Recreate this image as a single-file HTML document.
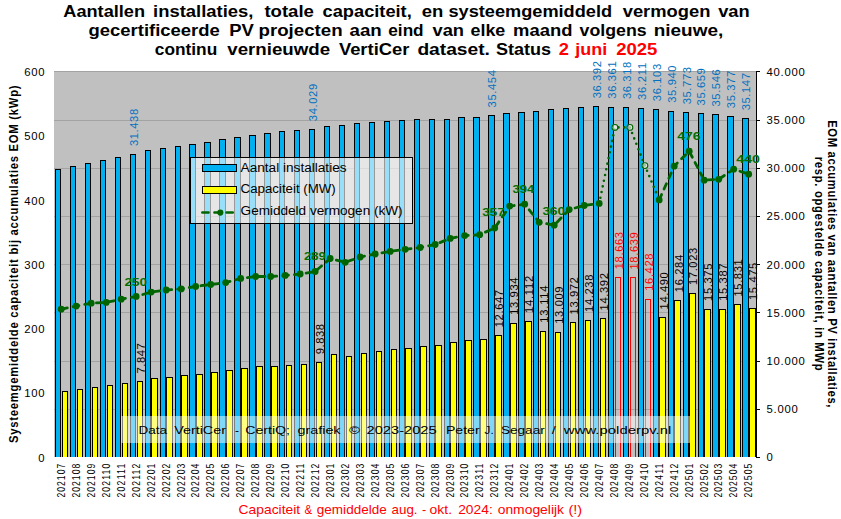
<!DOCTYPE html>
<html><head><meta charset="utf-8"><style>
html,body{margin:0;padding:0;background:#fff;overflow:hidden;}
svg{display:block;font-family:"Liberation Sans", sans-serif;} rect{shape-rendering:crispEdges;}
</style></head><body>
<svg width="841" height="519" viewBox="0 0 841 519">
<rect x="0" y="0" width="841" height="519" fill="#fff"/>
<rect x="54" y="71" width="702" height="386" fill="#c0c0c0"/>
<rect x="54" y="120" width="702" height="1" fill="#a3a3a3"/>
<rect x="54" y="168" width="702" height="1" fill="#a3a3a3"/>
<rect x="54" y="216" width="702" height="1" fill="#a3a3a3"/>
<rect x="54" y="264" width="702" height="1" fill="#a3a3a3"/>
<rect x="54" y="312" width="702" height="1" fill="#a3a3a3"/>
<rect x="54" y="361" width="702" height="1" fill="#a3a3a3"/>
<rect x="54" y="409" width="702" height="1" fill="#a3a3a3"/>
<rect x="54" y="71" width="702" height="1" fill="#a3a3a3"/>
<rect x="55" y="169" width="6" height="288" fill="#000"/>
<rect x="56" y="170" width="4" height="287" fill="#00b0f0"/>
<rect x="62" y="391" width="6" height="66" fill="#000"/>
<rect x="63" y="392" width="4" height="65" fill="#ffff00"/>
<rect x="70" y="166" width="6" height="291" fill="#000"/>
<rect x="71" y="167" width="4" height="290" fill="#00b0f0"/>
<rect x="77" y="389" width="6" height="68" fill="#000"/>
<rect x="78" y="390" width="4" height="67" fill="#ffff00"/>
<rect x="85" y="163" width="6" height="294" fill="#000"/>
<rect x="86" y="164" width="4" height="293" fill="#00b0f0"/>
<rect x="92" y="387" width="6" height="70" fill="#000"/>
<rect x="93" y="388" width="4" height="69" fill="#ffff00"/>
<rect x="100" y="160" width="6" height="297" fill="#000"/>
<rect x="101" y="161" width="4" height="296" fill="#00b0f0"/>
<rect x="107" y="385" width="6" height="72" fill="#000"/>
<rect x="108" y="386" width="4" height="71" fill="#ffff00"/>
<rect x="115" y="157" width="6" height="300" fill="#000"/>
<rect x="116" y="158" width="4" height="299" fill="#00b0f0"/>
<rect x="122" y="383" width="6" height="74" fill="#000"/>
<rect x="123" y="384" width="4" height="73" fill="#ffff00"/>
<rect x="130" y="154" width="6" height="303" fill="#000"/>
<rect x="131" y="155" width="4" height="302" fill="#00b0f0"/>
<rect x="137" y="381" width="6" height="76" fill="#000"/>
<rect x="138" y="382" width="4" height="75" fill="#ffff00"/>
<rect x="145" y="150" width="6" height="307" fill="#000"/>
<rect x="146" y="151" width="4" height="306" fill="#00b0f0"/>
<rect x="151" y="378" width="7" height="79" fill="#000"/>
<rect x="152" y="379" width="5" height="78" fill="#ffff00"/>
<rect x="160" y="148" width="6" height="309" fill="#000"/>
<rect x="161" y="149" width="4" height="308" fill="#00b0f0"/>
<rect x="166" y="377" width="7" height="80" fill="#000"/>
<rect x="167" y="378" width="5" height="79" fill="#ffff00"/>
<rect x="175" y="146" width="6" height="311" fill="#000"/>
<rect x="176" y="147" width="4" height="310" fill="#00b0f0"/>
<rect x="181" y="375" width="7" height="82" fill="#000"/>
<rect x="182" y="376" width="5" height="81" fill="#ffff00"/>
<rect x="189" y="144" width="7" height="313" fill="#000"/>
<rect x="190" y="145" width="5" height="312" fill="#00b0f0"/>
<rect x="196" y="374" width="7" height="83" fill="#000"/>
<rect x="197" y="375" width="5" height="82" fill="#ffff00"/>
<rect x="204" y="142" width="7" height="315" fill="#000"/>
<rect x="205" y="143" width="5" height="314" fill="#00b0f0"/>
<rect x="211" y="372" width="7" height="85" fill="#000"/>
<rect x="212" y="373" width="5" height="84" fill="#ffff00"/>
<rect x="219" y="139" width="7" height="318" fill="#000"/>
<rect x="220" y="140" width="5" height="317" fill="#00b0f0"/>
<rect x="226" y="370" width="7" height="87" fill="#000"/>
<rect x="227" y="371" width="5" height="86" fill="#ffff00"/>
<rect x="234" y="137" width="7" height="320" fill="#000"/>
<rect x="235" y="138" width="5" height="319" fill="#00b0f0"/>
<rect x="241" y="368" width="7" height="89" fill="#000"/>
<rect x="242" y="369" width="5" height="88" fill="#ffff00"/>
<rect x="249" y="135" width="7" height="322" fill="#000"/>
<rect x="250" y="136" width="5" height="321" fill="#00b0f0"/>
<rect x="256" y="366" width="7" height="91" fill="#000"/>
<rect x="257" y="367" width="5" height="90" fill="#ffff00"/>
<rect x="264" y="133" width="7" height="324" fill="#000"/>
<rect x="265" y="134" width="5" height="323" fill="#00b0f0"/>
<rect x="271" y="366" width="7" height="91" fill="#000"/>
<rect x="272" y="367" width="5" height="90" fill="#ffff00"/>
<rect x="279" y="131" width="6" height="326" fill="#000"/>
<rect x="280" y="132" width="4" height="325" fill="#00b0f0"/>
<rect x="286" y="365" width="6" height="92" fill="#000"/>
<rect x="287" y="366" width="4" height="91" fill="#ffff00"/>
<rect x="294" y="130" width="6" height="327" fill="#000"/>
<rect x="295" y="131" width="4" height="326" fill="#00b0f0"/>
<rect x="301" y="364" width="6" height="93" fill="#000"/>
<rect x="302" y="365" width="4" height="92" fill="#ffff00"/>
<rect x="309" y="129" width="6" height="328" fill="#000"/>
<rect x="310" y="130" width="4" height="327" fill="#00b0f0"/>
<rect x="316" y="362" width="6" height="95" fill="#000"/>
<rect x="317" y="363" width="4" height="94" fill="#ffff00"/>
<rect x="324" y="126" width="6" height="331" fill="#000"/>
<rect x="325" y="127" width="4" height="330" fill="#00b0f0"/>
<rect x="331" y="354" width="6" height="103" fill="#000"/>
<rect x="332" y="355" width="4" height="102" fill="#ffff00"/>
<rect x="339" y="125" width="6" height="332" fill="#000"/>
<rect x="340" y="126" width="4" height="331" fill="#00b0f0"/>
<rect x="346" y="356" width="6" height="101" fill="#000"/>
<rect x="347" y="357" width="4" height="100" fill="#ffff00"/>
<rect x="354" y="123" width="6" height="334" fill="#000"/>
<rect x="355" y="124" width="4" height="333" fill="#00b0f0"/>
<rect x="361" y="353" width="6" height="104" fill="#000"/>
<rect x="362" y="354" width="4" height="103" fill="#ffff00"/>
<rect x="369" y="122" width="6" height="335" fill="#000"/>
<rect x="370" y="123" width="4" height="334" fill="#00b0f0"/>
<rect x="376" y="351" width="6" height="106" fill="#000"/>
<rect x="377" y="352" width="4" height="105" fill="#ffff00"/>
<rect x="384" y="121" width="6" height="336" fill="#000"/>
<rect x="385" y="122" width="4" height="335" fill="#00b0f0"/>
<rect x="391" y="349" width="6" height="108" fill="#000"/>
<rect x="392" y="350" width="4" height="107" fill="#ffff00"/>
<rect x="399" y="120" width="6" height="337" fill="#000"/>
<rect x="400" y="121" width="4" height="336" fill="#00b0f0"/>
<rect x="405" y="348" width="7" height="109" fill="#000"/>
<rect x="406" y="349" width="5" height="108" fill="#ffff00"/>
<rect x="414" y="119" width="6" height="338" fill="#000"/>
<rect x="415" y="120" width="4" height="337" fill="#00b0f0"/>
<rect x="420" y="346" width="7" height="111" fill="#000"/>
<rect x="421" y="347" width="5" height="110" fill="#ffff00"/>
<rect x="429" y="119" width="6" height="338" fill="#000"/>
<rect x="430" y="120" width="4" height="337" fill="#00b0f0"/>
<rect x="435" y="345" width="7" height="112" fill="#000"/>
<rect x="436" y="346" width="5" height="111" fill="#ffff00"/>
<rect x="444" y="119" width="6" height="338" fill="#000"/>
<rect x="445" y="120" width="4" height="337" fill="#00b0f0"/>
<rect x="450" y="342" width="7" height="115" fill="#000"/>
<rect x="451" y="343" width="5" height="114" fill="#ffff00"/>
<rect x="458" y="117" width="7" height="340" fill="#000"/>
<rect x="459" y="118" width="5" height="339" fill="#00b0f0"/>
<rect x="465" y="340" width="7" height="117" fill="#000"/>
<rect x="466" y="341" width="5" height="116" fill="#ffff00"/>
<rect x="473" y="117" width="7" height="340" fill="#000"/>
<rect x="474" y="118" width="5" height="339" fill="#00b0f0"/>
<rect x="480" y="339" width="7" height="118" fill="#000"/>
<rect x="481" y="340" width="5" height="117" fill="#ffff00"/>
<rect x="488" y="115" width="7" height="342" fill="#000"/>
<rect x="489" y="116" width="5" height="341" fill="#00b0f0"/>
<rect x="495" y="335" width="7" height="122" fill="#000"/>
<rect x="496" y="336" width="5" height="121" fill="#ffff00"/>
<rect x="503" y="113" width="7" height="344" fill="#000"/>
<rect x="504" y="114" width="5" height="343" fill="#00b0f0"/>
<rect x="510" y="323" width="7" height="134" fill="#000"/>
<rect x="511" y="324" width="5" height="133" fill="#ffff00"/>
<rect x="518" y="112" width="7" height="345" fill="#000"/>
<rect x="519" y="113" width="5" height="344" fill="#00b0f0"/>
<rect x="525" y="321" width="7" height="136" fill="#000"/>
<rect x="526" y="322" width="5" height="135" fill="#ffff00"/>
<rect x="533" y="111" width="6" height="346" fill="#000"/>
<rect x="534" y="112" width="4" height="345" fill="#00b0f0"/>
<rect x="540" y="331" width="6" height="126" fill="#000"/>
<rect x="541" y="332" width="4" height="125" fill="#ffff00"/>
<rect x="548" y="109" width="6" height="348" fill="#000"/>
<rect x="549" y="110" width="4" height="347" fill="#00b0f0"/>
<rect x="555" y="332" width="6" height="125" fill="#000"/>
<rect x="556" y="333" width="4" height="124" fill="#ffff00"/>
<rect x="563" y="108" width="6" height="349" fill="#000"/>
<rect x="564" y="109" width="4" height="348" fill="#00b0f0"/>
<rect x="570" y="322" width="6" height="135" fill="#000"/>
<rect x="571" y="323" width="4" height="134" fill="#ffff00"/>
<rect x="578" y="107" width="6" height="350" fill="#000"/>
<rect x="579" y="108" width="4" height="349" fill="#00b0f0"/>
<rect x="585" y="320" width="6" height="137" fill="#000"/>
<rect x="586" y="321" width="4" height="136" fill="#ffff00"/>
<rect x="593" y="106" width="6" height="351" fill="#000"/>
<rect x="594" y="107" width="4" height="350" fill="#00b0f0"/>
<rect x="600" y="318" width="6" height="139" fill="#000"/>
<rect x="601" y="319" width="4" height="138" fill="#ffff00"/>
<rect x="608" y="107" width="6" height="350" fill="#000"/>
<rect x="609" y="108" width="4" height="349" fill="#00b0f0"/>
<rect x="615" y="277" width="1" height="180" fill="#ff0000"/>
<rect x="620" y="277" width="1" height="180" fill="#ff0000"/>
<rect x="615" y="277" width="6" height="1" fill="#ff0000"/>
<rect x="623" y="107" width="6" height="350" fill="#000"/>
<rect x="624" y="108" width="4" height="349" fill="#00b0f0"/>
<rect x="630" y="277" width="1" height="180" fill="#ff0000"/>
<rect x="635" y="277" width="1" height="180" fill="#ff0000"/>
<rect x="630" y="277" width="6" height="1" fill="#ff0000"/>
<rect x="638" y="108" width="6" height="349" fill="#000"/>
<rect x="639" y="109" width="4" height="348" fill="#00b0f0"/>
<rect x="645" y="299" width="1" height="158" fill="#ff0000"/>
<rect x="650" y="299" width="1" height="158" fill="#ff0000"/>
<rect x="645" y="299" width="6" height="1" fill="#ff0000"/>
<rect x="653" y="109" width="6" height="348" fill="#000"/>
<rect x="654" y="110" width="4" height="347" fill="#00b0f0"/>
<rect x="659" y="317" width="7" height="140" fill="#000"/>
<rect x="660" y="318" width="5" height="139" fill="#ffff00"/>
<rect x="668" y="111" width="6" height="346" fill="#000"/>
<rect x="669" y="112" width="4" height="345" fill="#00b0f0"/>
<rect x="674" y="300" width="7" height="157" fill="#000"/>
<rect x="675" y="301" width="5" height="156" fill="#ffff00"/>
<rect x="683" y="112" width="6" height="345" fill="#000"/>
<rect x="684" y="113" width="4" height="344" fill="#00b0f0"/>
<rect x="689" y="293" width="7" height="164" fill="#000"/>
<rect x="690" y="294" width="5" height="163" fill="#ffff00"/>
<rect x="698" y="113" width="6" height="344" fill="#000"/>
<rect x="699" y="114" width="4" height="343" fill="#00b0f0"/>
<rect x="704" y="309" width="7" height="148" fill="#000"/>
<rect x="705" y="310" width="5" height="147" fill="#ffff00"/>
<rect x="712" y="114" width="7" height="343" fill="#000"/>
<rect x="713" y="115" width="5" height="342" fill="#00b0f0"/>
<rect x="719" y="309" width="7" height="148" fill="#000"/>
<rect x="720" y="310" width="5" height="147" fill="#ffff00"/>
<rect x="727" y="116" width="7" height="341" fill="#000"/>
<rect x="728" y="117" width="5" height="340" fill="#00b0f0"/>
<rect x="734" y="304" width="7" height="153" fill="#000"/>
<rect x="735" y="305" width="5" height="152" fill="#ffff00"/>
<rect x="742" y="118" width="7" height="339" fill="#000"/>
<rect x="743" y="119" width="5" height="338" fill="#00b0f0"/>
<rect x="749" y="308" width="7" height="149" fill="#000"/>
<rect x="750" y="309" width="5" height="148" fill="#ffff00"/>
<rect x="756" y="71" width="1" height="387" fill="#000"/>
<rect x="757" y="71" width="3" height="1" fill="#000"/>
<rect x="757" y="120" width="3" height="1" fill="#000"/>
<rect x="757" y="168" width="3" height="1" fill="#000"/>
<rect x="757" y="216" width="3" height="1" fill="#000"/>
<rect x="757" y="264" width="3" height="1" fill="#000"/>
<rect x="757" y="312" width="3" height="1" fill="#000"/>
<rect x="757" y="361" width="3" height="1" fill="#000"/>
<rect x="757" y="409" width="3" height="1" fill="#000"/>
<rect x="757" y="457" width="3" height="1" fill="#000"/>
<polyline points="61.20,309.20 76.20,306.10 91.20,303.20 106.20,302.40 121.20,299.20 136.20,296.40 151.20,292.10 166.20,290.00 181.20,288.90 195.70,286.40 210.70,284.50 225.70,282.60 240.70,278.40 255.70,276.50 270.70,276.50 285.20,275.40 300.20,274.00 315.20,271.50 330.20,258.50 345.20,262.30 360.20,257.00 375.20,254.00 390.20,251.40 405.20,249.30 420.20,247.50 435.20,244.50 450.20,238.40 464.70,235.60 479.70,234.70 494.70,228.00 509.70,206.10 524.70,204.20 539.20,222.30 554.20,225.20 569.20,209.60 584.20,205.50 599.20,203.40" fill="none" stroke="#006400" stroke-width="2.8" stroke-dasharray="5.8 6.0" stroke-dashoffset="11.35" stroke-linecap="round" stroke-linejoin="round"/>
<polyline points="599.20,203.40 614.90,127.40 629.90,127.40 644.90,165.60 659.20,199.90" fill="none" stroke="#006400" stroke-width="2.6" stroke-dasharray="0 5.8" stroke-linecap="round"/>
<polyline points="659.20,199.90 674.20,166.20 689.20,151.20 704.20,180.20 718.70,179.30 733.70,169.20 748.70,174.20" fill="none" stroke="#006400" stroke-width="2.8" stroke-dasharray="5.8 6.0" stroke-dashoffset="11.7" stroke-linecap="round" stroke-linejoin="round"/>
<circle cx="61.20" cy="309.20" r="3.4" fill="#006400"/>
<circle cx="76.20" cy="306.10" r="3.4" fill="#006400"/>
<circle cx="91.20" cy="303.20" r="3.4" fill="#006400"/>
<circle cx="106.20" cy="302.40" r="3.4" fill="#006400"/>
<circle cx="121.20" cy="299.20" r="3.4" fill="#006400"/>
<circle cx="136.20" cy="296.40" r="3.4" fill="#006400"/>
<circle cx="151.20" cy="292.10" r="3.4" fill="#006400"/>
<circle cx="166.20" cy="290.00" r="3.4" fill="#006400"/>
<circle cx="181.20" cy="288.90" r="3.4" fill="#006400"/>
<circle cx="195.70" cy="286.40" r="3.4" fill="#006400"/>
<circle cx="210.70" cy="284.50" r="3.4" fill="#006400"/>
<circle cx="225.70" cy="282.60" r="3.4" fill="#006400"/>
<circle cx="240.70" cy="278.40" r="3.4" fill="#006400"/>
<circle cx="255.70" cy="276.50" r="3.4" fill="#006400"/>
<circle cx="270.70" cy="276.50" r="3.4" fill="#006400"/>
<circle cx="285.20" cy="275.40" r="3.4" fill="#006400"/>
<circle cx="300.20" cy="274.00" r="3.4" fill="#006400"/>
<circle cx="315.20" cy="271.50" r="3.4" fill="#006400"/>
<circle cx="330.20" cy="258.50" r="3.4" fill="#006400"/>
<circle cx="345.20" cy="262.30" r="3.4" fill="#006400"/>
<circle cx="360.20" cy="257.00" r="3.4" fill="#006400"/>
<circle cx="375.20" cy="254.00" r="3.4" fill="#006400"/>
<circle cx="390.20" cy="251.40" r="3.4" fill="#006400"/>
<circle cx="405.20" cy="249.30" r="3.4" fill="#006400"/>
<circle cx="420.20" cy="247.50" r="3.4" fill="#006400"/>
<circle cx="435.20" cy="244.50" r="3.4" fill="#006400"/>
<circle cx="450.20" cy="238.40" r="3.4" fill="#006400"/>
<circle cx="464.70" cy="235.60" r="3.4" fill="#006400"/>
<circle cx="479.70" cy="234.70" r="3.4" fill="#006400"/>
<circle cx="494.70" cy="228.00" r="3.4" fill="#006400"/>
<circle cx="509.70" cy="206.10" r="3.4" fill="#006400"/>
<circle cx="524.70" cy="204.20" r="3.4" fill="#006400"/>
<circle cx="539.20" cy="222.30" r="3.4" fill="#006400"/>
<circle cx="554.20" cy="225.20" r="3.4" fill="#006400"/>
<circle cx="569.20" cy="209.60" r="3.4" fill="#006400"/>
<circle cx="584.20" cy="205.50" r="3.4" fill="#006400"/>
<circle cx="599.20" cy="203.40" r="3.4" fill="#006400"/>
<circle cx="614.90" cy="127.40" r="2.9" fill="#fff" fill-opacity="0.6" stroke="#006400" stroke-width="1.1"/>
<circle cx="629.90" cy="127.40" r="2.9" fill="#fff" fill-opacity="0.6" stroke="#006400" stroke-width="1.1"/>
<circle cx="644.90" cy="165.60" r="2.9" fill="#fff" fill-opacity="0.6" stroke="#006400" stroke-width="1.1"/>
<circle cx="659.20" cy="199.90" r="3.4" fill="#006400"/>
<circle cx="674.20" cy="166.20" r="3.4" fill="#006400"/>
<circle cx="689.20" cy="151.20" r="3.4" fill="#006400"/>
<circle cx="704.20" cy="180.20" r="3.4" fill="#006400"/>
<circle cx="718.70" cy="179.30" r="3.4" fill="#006400"/>
<circle cx="733.70" cy="169.20" r="3.4" fill="#006400"/>
<circle cx="748.70" cy="174.20" r="3.4" fill="#006400"/>
<text transform="translate(137.69,146.12) rotate(-90)" x="0" y="0" font-size="11.2" fill="#0070c0" letter-spacing="0.613">31.438</text>
<text transform="translate(316.99,121.15) rotate(-90)" x="0" y="0" font-size="11.2" fill="#0070c0" letter-spacing="0.613">34.029</text>
<text transform="translate(496.30,107.41) rotate(-90)" x="0" y="0" font-size="11.2" fill="#0070c0" letter-spacing="0.613">35.454</text>
<text transform="translate(600.89,98.37) rotate(-90)" x="0" y="0" font-size="11.2" fill="#0070c0" letter-spacing="0.613">36.392</text>
<text transform="translate(615.83,98.67) rotate(-90)" x="0" y="0" font-size="11.2" fill="#0070c0" letter-spacing="0.613">36.361</text>
<text transform="translate(630.78,99.09) rotate(-90)" x="0" y="0" font-size="11.2" fill="#0070c0" letter-spacing="0.613">36.318</text>
<text transform="translate(645.72,100.12) rotate(-90)" x="0" y="0" font-size="11.2" fill="#0070c0" letter-spacing="0.779">36.211</text>
<text transform="translate(660.66,101.16) rotate(-90)" x="0" y="0" font-size="11.2" fill="#0070c0" letter-spacing="0.613">36.103</text>
<text transform="translate(675.60,102.73) rotate(-90)" x="0" y="0" font-size="11.2" fill="#0070c0" letter-spacing="0.613">35.940</text>
<text transform="translate(690.54,104.34) rotate(-90)" x="0" y="0" font-size="11.2" fill="#0070c0" letter-spacing="0.613">35.773</text>
<text transform="translate(705.49,105.44) rotate(-90)" x="0" y="0" font-size="11.2" fill="#0070c0" letter-spacing="0.613">35.659</text>
<text transform="translate(720.43,106.53) rotate(-90)" x="0" y="0" font-size="11.2" fill="#0070c0" letter-spacing="0.613">35.546</text>
<text transform="translate(735.37,108.15) rotate(-90)" x="0" y="0" font-size="11.2" fill="#0070c0" letter-spacing="0.613">35.377</text>
<text transform="translate(750.31,110.37) rotate(-90)" x="0" y="0" font-size="11.2" fill="#0070c0" letter-spacing="0.613">35.147</text>
<text transform="translate(144.59,373.47) rotate(-90)" x="0" y="0" font-size="11.2" fill="#000" letter-spacing="0.571">7.847</text>
<text transform="translate(323.89,354.29) rotate(-90)" x="0" y="0" font-size="11.2" fill="#000" letter-spacing="0.571">9.838</text>
<text transform="translate(503.20,327.21) rotate(-90)" x="0" y="0" font-size="11.2" fill="#000" letter-spacing="0.613">12.647</text>
<text transform="translate(518.14,314.81) rotate(-90)" x="0" y="0" font-size="11.2" fill="#000" letter-spacing="0.613">13.934</text>
<text transform="translate(533.08,313.10) rotate(-90)" x="0" y="0" font-size="11.2" fill="#000" letter-spacing="0.779">14.112</text>
<text transform="translate(548.02,322.71) rotate(-90)" x="0" y="0" font-size="11.2" fill="#000" letter-spacing="0.779">13.114</text>
<text transform="translate(562.97,323.73) rotate(-90)" x="0" y="0" font-size="11.2" fill="#000" letter-spacing="0.613">13.009</text>
<text transform="translate(577.91,314.44) rotate(-90)" x="0" y="0" font-size="11.2" fill="#000" letter-spacing="0.613">13.972</text>
<text transform="translate(592.85,311.88) rotate(-90)" x="0" y="0" font-size="11.2" fill="#000" letter-spacing="0.613">14.238</text>
<text transform="translate(607.79,310.40) rotate(-90)" x="0" y="0" font-size="11.2" fill="#000" letter-spacing="0.613">14.392</text>
<text transform="translate(622.73,269.24) rotate(-90)" x="0" y="0" font-size="11.2" fill="#ff0000" letter-spacing="0.613">18.663</text>
<text transform="translate(637.68,269.47) rotate(-90)" x="0" y="0" font-size="11.2" fill="#ff0000" letter-spacing="0.613">18.639</text>
<text transform="translate(652.62,290.78) rotate(-90)" x="0" y="0" font-size="11.2" fill="#ff0000" letter-spacing="0.613">16.428</text>
<text transform="translate(667.56,309.45) rotate(-90)" x="0" y="0" font-size="11.2" fill="#000" letter-spacing="0.613">14.490</text>
<text transform="translate(682.50,292.16) rotate(-90)" x="0" y="0" font-size="11.2" fill="#000" letter-spacing="0.613">16.284</text>
<text transform="translate(697.44,285.04) rotate(-90)" x="0" y="0" font-size="11.2" fill="#000" letter-spacing="0.613">17.023</text>
<text transform="translate(712.39,300.92) rotate(-90)" x="0" y="0" font-size="11.2" fill="#000" letter-spacing="0.613">15.375</text>
<text transform="translate(727.33,300.81) rotate(-90)" x="0" y="0" font-size="11.2" fill="#000" letter-spacing="0.613">15.387</text>
<text transform="translate(742.27,296.53) rotate(-90)" x="0" y="0" font-size="11.2" fill="#000" letter-spacing="0.613">15.831</text>
<text transform="translate(757.21,299.96) rotate(-90)" x="0" y="0" font-size="11.2" fill="#000" letter-spacing="0.613">15.475</text>
<text x="124.40" y="285.70" font-size="11.5" fill="#006e00" font-weight="bold" textLength="22.77" lengthAdjust="spacingAndGlyphs">250</text>
<text x="304.00" y="259.80" font-size="11.5" fill="#006e00" font-weight="bold" textLength="21.85" lengthAdjust="spacingAndGlyphs">289</text>
<text x="482.20" y="216.40" font-size="11.5" fill="#006e00" font-weight="bold" textLength="22.67" lengthAdjust="spacingAndGlyphs">357</text>
<text x="512.60" y="192.60" font-size="11.5" fill="#006e00" font-weight="bold" textLength="21.62" lengthAdjust="spacingAndGlyphs">394</text>
<text x="542.50" y="214.50" font-size="11.5" fill="#006e00" font-weight="bold" textLength="22.67" lengthAdjust="spacingAndGlyphs">360</text>
<text x="677.30" y="139.80" font-size="11.5" fill="#006e00" font-weight="bold" textLength="23.18" lengthAdjust="spacingAndGlyphs">476</text>
<text x="736.30" y="162.80" font-size="11.5" fill="#006e00" font-weight="bold" textLength="23.69" lengthAdjust="spacingAndGlyphs">440</text>
<rect x="190.5" y="157.5" width="222" height="66" fill="#fff" fill-opacity="0.6" stroke="#000" stroke-width="1"/>
<rect x="202" y="164" width="35" height="8" fill="#000"/><rect x="203" y="165" width="33" height="6" fill="#00b0f0"/>
<rect x="202" y="186" width="35" height="8" fill="#000"/><rect x="203" y="187" width="33" height="6" fill="#ffff00"/>
<line x1="202.3" y1="212.6" x2="233" y2="212.6" stroke="#006400" stroke-width="2.5" stroke-dasharray="6.3 5.8" stroke-linecap="round"/>
<circle cx="220.3" cy="212.6" r="3.1" fill="#006400"/>
<text x="240.60" y="171.90" font-size="12.5" fill="#000" textLength="105.97" lengthAdjust="spacingAndGlyphs">Aantal installaties</text>
<text x="240.60" y="193.40" font-size="12.5" fill="#000" textLength="95.17" lengthAdjust="spacingAndGlyphs">Capaciteit (MW)</text>
<text x="240.60" y="215.20" font-size="12.5" fill="#000" textLength="161.98" lengthAdjust="spacingAndGlyphs">Gemiddeld vermogen (kW)</text>
<rect x="121" y="416" width="569" height="27" fill="#fff" fill-opacity="0.5"/>
<text x="138.60" y="434.00" font-size="11.6" fill="#000" textLength="28.56" lengthAdjust="spacingAndGlyphs">Data</text>
<text x="174.20" y="434.00" font-size="11.6" fill="#000" textLength="51.73" lengthAdjust="spacingAndGlyphs">VertiCer</text>
<text x="235.10" y="434.00" font-size="11.6" fill="#000" textLength="4.05" lengthAdjust="spacingAndGlyphs">-</text>
<text x="245.20" y="434.00" font-size="11.6" fill="#000" textLength="44.87" lengthAdjust="spacingAndGlyphs">CertiQ;</text>
<text x="297.60" y="434.00" font-size="11.6" fill="#000" textLength="42.95" lengthAdjust="spacingAndGlyphs">grafiek</text>
<text x="349.10" y="434.00" font-size="11.6" fill="#000" textLength="10.92" lengthAdjust="spacingAndGlyphs">©</text>
<text x="366.50" y="434.00" font-size="11.6" fill="#000" textLength="70.17" lengthAdjust="spacingAndGlyphs">2023-2025</text>
<text x="445.90" y="434.00" font-size="11.6" fill="#000" textLength="33.73" lengthAdjust="spacingAndGlyphs">Peter</text>
<text x="484.60" y="434.00" font-size="11.6" fill="#000" textLength="9.12" lengthAdjust="spacingAndGlyphs">J.</text>
<text x="500.90" y="434.00" font-size="11.6" fill="#000" textLength="43.84" lengthAdjust="spacingAndGlyphs">Segaar</text>
<text x="551.80" y="434.00" font-size="11.6" fill="#000" textLength="4.03" lengthAdjust="spacingAndGlyphs">/</text>
<text x="563.89" y="434.00" font-size="11.6" fill="#000" textLength="107.45" lengthAdjust="spacingAndGlyphs">www.polderpv.nl</text>
<text x="38.30" y="461.60" font-size="11.3" fill="#000" letter-spacing="0.000">0</text>
<text x="24.30" y="397.35" font-size="11.3" fill="#000" letter-spacing="0.717">100</text>
<text x="24.30" y="333.10" font-size="11.3" fill="#000" letter-spacing="0.717">200</text>
<text x="24.30" y="268.85" font-size="11.3" fill="#000" letter-spacing="0.717">300</text>
<text x="24.30" y="204.60" font-size="11.3" fill="#000" letter-spacing="0.717">400</text>
<text x="24.30" y="140.35" font-size="11.3" fill="#000" letter-spacing="0.717">500</text>
<text x="24.30" y="76.10" font-size="11.3" fill="#000" letter-spacing="0.717">600</text>
<text x="766.50" y="461.40" font-size="11.3" fill="#000" letter-spacing="0.000">0</text>
<text x="766.50" y="413.21" font-size="11.3" fill="#000" letter-spacing="0.743">5.000</text>
<text x="766.50" y="365.02" font-size="11.3" fill="#000" letter-spacing="0.738">10.000</text>
<text x="766.50" y="316.84" font-size="11.3" fill="#000" letter-spacing="0.738">15.000</text>
<text x="766.50" y="268.65" font-size="11.3" fill="#000" letter-spacing="0.738">20.000</text>
<text x="766.50" y="220.46" font-size="11.3" fill="#000" letter-spacing="0.738">25.000</text>
<text x="766.50" y="172.28" font-size="11.3" fill="#000" letter-spacing="0.738">30.000</text>
<text x="766.50" y="124.09" font-size="11.3" fill="#000" letter-spacing="0.738">35.000</text>
<text x="766.50" y="75.90" font-size="11.3" fill="#000" letter-spacing="0.738">40.000</text>
<text transform="translate(64.70,497.60) rotate(-90) scale(0.86,1)" x="0" y="0" font-size="10.0" fill="#000" letter-spacing="1.215">202107</text>
<text transform="translate(79.70,497.60) rotate(-90) scale(0.86,1)" x="0" y="0" font-size="10.0" fill="#000" letter-spacing="1.215">202108</text>
<text transform="translate(94.70,497.60) rotate(-90) scale(0.86,1)" x="0" y="0" font-size="10.0" fill="#000" letter-spacing="1.215">202109</text>
<text transform="translate(109.70,497.60) rotate(-90) scale(0.86,1)" x="0" y="0" font-size="10.0" fill="#000" letter-spacing="1.364">202110</text>
<text transform="translate(124.70,497.60) rotate(-90) scale(0.86,1)" x="0" y="0" font-size="10.0" fill="#000" letter-spacing="1.512">202111</text>
<text transform="translate(139.70,497.60) rotate(-90) scale(0.86,1)" x="0" y="0" font-size="10.0" fill="#000" letter-spacing="1.364">202112</text>
<text transform="translate(154.70,497.60) rotate(-90) scale(0.86,1)" x="0" y="0" font-size="10.0" fill="#000" letter-spacing="1.215">202201</text>
<text transform="translate(169.70,497.60) rotate(-90) scale(0.86,1)" x="0" y="0" font-size="10.0" fill="#000" letter-spacing="1.215">202202</text>
<text transform="translate(184.70,497.60) rotate(-90) scale(0.86,1)" x="0" y="0" font-size="10.0" fill="#000" letter-spacing="1.215">202203</text>
<text transform="translate(199.20,497.60) rotate(-90) scale(0.86,1)" x="0" y="0" font-size="10.0" fill="#000" letter-spacing="1.215">202204</text>
<text transform="translate(214.20,497.60) rotate(-90) scale(0.86,1)" x="0" y="0" font-size="10.0" fill="#000" letter-spacing="1.215">202205</text>
<text transform="translate(229.20,497.60) rotate(-90) scale(0.86,1)" x="0" y="0" font-size="10.0" fill="#000" letter-spacing="1.215">202206</text>
<text transform="translate(244.20,497.60) rotate(-90) scale(0.86,1)" x="0" y="0" font-size="10.0" fill="#000" letter-spacing="1.215">202207</text>
<text transform="translate(259.20,497.60) rotate(-90) scale(0.86,1)" x="0" y="0" font-size="10.0" fill="#000" letter-spacing="1.215">202208</text>
<text transform="translate(274.20,497.60) rotate(-90) scale(0.86,1)" x="0" y="0" font-size="10.0" fill="#000" letter-spacing="1.215">202209</text>
<text transform="translate(288.70,497.60) rotate(-90) scale(0.86,1)" x="0" y="0" font-size="10.0" fill="#000" letter-spacing="1.215">202210</text>
<text transform="translate(303.70,497.60) rotate(-90) scale(0.86,1)" x="0" y="0" font-size="10.0" fill="#000" letter-spacing="1.364">202211</text>
<text transform="translate(318.70,497.60) rotate(-90) scale(0.86,1)" x="0" y="0" font-size="10.0" fill="#000" letter-spacing="1.215">202212</text>
<text transform="translate(333.70,497.60) rotate(-90) scale(0.86,1)" x="0" y="0" font-size="10.0" fill="#000" letter-spacing="1.215">202301</text>
<text transform="translate(348.70,497.60) rotate(-90) scale(0.86,1)" x="0" y="0" font-size="10.0" fill="#000" letter-spacing="1.215">202302</text>
<text transform="translate(363.70,497.60) rotate(-90) scale(0.86,1)" x="0" y="0" font-size="10.0" fill="#000" letter-spacing="1.215">202303</text>
<text transform="translate(378.70,497.60) rotate(-90) scale(0.86,1)" x="0" y="0" font-size="10.0" fill="#000" letter-spacing="1.215">202304</text>
<text transform="translate(393.70,497.60) rotate(-90) scale(0.86,1)" x="0" y="0" font-size="10.0" fill="#000" letter-spacing="1.215">202305</text>
<text transform="translate(408.70,497.60) rotate(-90) scale(0.86,1)" x="0" y="0" font-size="10.0" fill="#000" letter-spacing="1.215">202306</text>
<text transform="translate(423.70,497.60) rotate(-90) scale(0.86,1)" x="0" y="0" font-size="10.0" fill="#000" letter-spacing="1.215">202307</text>
<text transform="translate(438.70,497.60) rotate(-90) scale(0.86,1)" x="0" y="0" font-size="10.0" fill="#000" letter-spacing="1.215">202308</text>
<text transform="translate(453.70,497.60) rotate(-90) scale(0.86,1)" x="0" y="0" font-size="10.0" fill="#000" letter-spacing="1.215">202309</text>
<text transform="translate(468.20,497.60) rotate(-90) scale(0.86,1)" x="0" y="0" font-size="10.0" fill="#000" letter-spacing="1.215">202310</text>
<text transform="translate(483.20,497.60) rotate(-90) scale(0.86,1)" x="0" y="0" font-size="10.0" fill="#000" letter-spacing="1.364">202311</text>
<text transform="translate(498.20,497.60) rotate(-90) scale(0.86,1)" x="0" y="0" font-size="10.0" fill="#000" letter-spacing="1.215">202312</text>
<text transform="translate(513.20,497.60) rotate(-90) scale(0.86,1)" x="0" y="0" font-size="10.0" fill="#000" letter-spacing="1.215">202401</text>
<text transform="translate(528.20,497.60) rotate(-90) scale(0.86,1)" x="0" y="0" font-size="10.0" fill="#000" letter-spacing="1.215">202402</text>
<text transform="translate(542.70,497.60) rotate(-90) scale(0.86,1)" x="0" y="0" font-size="10.0" fill="#000" letter-spacing="1.215">202403</text>
<text transform="translate(557.70,497.60) rotate(-90) scale(0.86,1)" x="0" y="0" font-size="10.0" fill="#000" letter-spacing="1.215">202404</text>
<text transform="translate(572.70,497.60) rotate(-90) scale(0.86,1)" x="0" y="0" font-size="10.0" fill="#000" letter-spacing="1.215">202405</text>
<text transform="translate(587.70,497.60) rotate(-90) scale(0.86,1)" x="0" y="0" font-size="10.0" fill="#000" letter-spacing="1.215">202406</text>
<text transform="translate(602.70,497.60) rotate(-90) scale(0.86,1)" x="0" y="0" font-size="10.0" fill="#000" letter-spacing="1.215">202407</text>
<text transform="translate(618.40,497.60) rotate(-90) scale(0.86,1)" x="0" y="0" font-size="10.0" fill="#000" letter-spacing="1.215">202408</text>
<text transform="translate(633.40,497.60) rotate(-90) scale(0.86,1)" x="0" y="0" font-size="10.0" fill="#000" letter-spacing="1.215">202409</text>
<text transform="translate(648.40,497.60) rotate(-90) scale(0.86,1)" x="0" y="0" font-size="10.0" fill="#000" letter-spacing="1.215">202410</text>
<text transform="translate(662.70,497.60) rotate(-90) scale(0.86,1)" x="0" y="0" font-size="10.0" fill="#000" letter-spacing="1.364">202411</text>
<text transform="translate(677.70,497.60) rotate(-90) scale(0.86,1)" x="0" y="0" font-size="10.0" fill="#000" letter-spacing="1.215">202412</text>
<text transform="translate(692.70,497.60) rotate(-90) scale(0.86,1)" x="0" y="0" font-size="10.0" fill="#000" letter-spacing="1.215">202501</text>
<text transform="translate(707.70,497.60) rotate(-90) scale(0.86,1)" x="0" y="0" font-size="10.0" fill="#000" letter-spacing="1.215">202502</text>
<text transform="translate(722.20,497.60) rotate(-90) scale(0.86,1)" x="0" y="0" font-size="10.0" fill="#000" letter-spacing="1.215">202503</text>
<text transform="translate(737.20,497.60) rotate(-90) scale(0.86,1)" x="0" y="0" font-size="10.0" fill="#000" letter-spacing="1.215">202504</text>
<text transform="translate(752.20,497.60) rotate(-90) scale(0.86,1)" x="0" y="0" font-size="10.0" fill="#000" letter-spacing="1.215">202505</text>
<text x="63.30" y="16.60" font-size="17.4" fill="#000" font-weight="bold" textLength="81.75" lengthAdjust="spacingAndGlyphs">Aantallen</text>
<text x="153.14" y="16.60" font-size="17.4" fill="#000" font-weight="bold" textLength="100.24" lengthAdjust="spacingAndGlyphs">installaties,</text>
<text x="264.40" y="16.60" font-size="17.4" fill="#000" font-weight="bold" textLength="49.55" lengthAdjust="spacingAndGlyphs">totale</text>
<text x="322.60" y="16.60" font-size="17.4" fill="#000" font-weight="bold" textLength="89.17" lengthAdjust="spacingAndGlyphs">capaciteit,</text>
<text x="421.70" y="16.60" font-size="17.4" fill="#000" font-weight="bold" textLength="21.56" lengthAdjust="spacingAndGlyphs">en</text>
<text x="448.50" y="16.60" font-size="17.4" fill="#000" font-weight="bold" textLength="163.55" lengthAdjust="spacingAndGlyphs">systeemgemiddeld</text>
<text x="622.70" y="16.60" font-size="17.4" fill="#000" font-weight="bold" textLength="87.76" lengthAdjust="spacingAndGlyphs">vermogen</text>
<text x="718.20" y="16.60" font-size="17.4" fill="#000" font-weight="bold" textLength="31.56" lengthAdjust="spacingAndGlyphs">van</text>
<text x="88.50" y="35.90" font-size="17.4" fill="#000" font-weight="bold" textLength="131.35" lengthAdjust="spacingAndGlyphs">gecertificeerde</text>
<text x="229.24" y="35.90" font-size="17.4" fill="#000" font-weight="bold" textLength="24.64" lengthAdjust="spacingAndGlyphs">PV</text>
<text x="258.53" y="35.90" font-size="17.4" fill="#000" font-weight="bold" textLength="84.04" lengthAdjust="spacingAndGlyphs">projecten</text>
<text x="349.60" y="35.90" font-size="17.4" fill="#000" font-weight="bold" textLength="32.17" lengthAdjust="spacingAndGlyphs">aan</text>
<text x="388.30" y="35.90" font-size="17.4" fill="#000" font-weight="bold" textLength="35.32" lengthAdjust="spacingAndGlyphs">eind</text>
<text x="432.50" y="35.90" font-size="17.4" fill="#000" font-weight="bold" textLength="31.56" lengthAdjust="spacingAndGlyphs">van</text>
<text x="470.50" y="35.90" font-size="17.4" fill="#000" font-weight="bold" textLength="34.76" lengthAdjust="spacingAndGlyphs">elke</text>
<text x="513.14" y="35.90" font-size="17.4" fill="#000" font-weight="bold" textLength="59.32" lengthAdjust="spacingAndGlyphs">maand</text>
<text x="579.60" y="35.90" font-size="17.4" fill="#000" font-weight="bold" textLength="66.98" lengthAdjust="spacingAndGlyphs">volgens</text>
<text x="653.71" y="35.90" font-size="17.4" fill="#000" font-weight="bold" textLength="69.50" lengthAdjust="spacingAndGlyphs">nieuwe,</text>
<text x="154.80" y="55.20" font-size="17.4" fill="#000" font-weight="bold" textLength="62.42" lengthAdjust="spacingAndGlyphs">continu</text>
<text x="227.30" y="55.20" font-size="17.4" fill="#000" font-weight="bold" textLength="102.75" lengthAdjust="spacingAndGlyphs">vernieuwde</text>
<text x="338.90" y="55.20" font-size="17.4" fill="#000" font-weight="bold" textLength="70.55" lengthAdjust="spacingAndGlyphs">VertiCer</text>
<text x="417.40" y="55.20" font-size="17.4" fill="#000" font-weight="bold" textLength="72.52" lengthAdjust="spacingAndGlyphs">dataset.</text>
<text x="496.10" y="55.20" font-size="17.4" fill="#000" font-weight="bold" textLength="55.00" lengthAdjust="spacingAndGlyphs">Status</text>
<text x="558.80" y="55.20" font-size="17.4" fill="#ff0000" font-weight="bold" textLength="10.21" lengthAdjust="spacingAndGlyphs">2</text>
<text x="575.23" y="55.20" font-size="17.4" fill="#ff0000" font-weight="bold" textLength="31.93" lengthAdjust="spacingAndGlyphs">juni</text>
<text x="616.20" y="55.20" font-size="17.4" fill="#ff0000" font-weight="bold" textLength="41.25" lengthAdjust="spacingAndGlyphs">2025</text>
<text transform="translate(18.30,442.90) rotate(-90) scale(0.94,1)" x="0" y="0" font-size="12" fill="#000" font-weight="bold" letter-spacing="0.779">Systeemgemiddelde capaciteit bij accumulaties EOM (kWp)</text>
<text transform="translate(827.70,120.20) rotate(90) scale(0.94,1)" x="0" y="0" font-size="12" fill="#000" font-weight="bold" letter-spacing="0.695">EOM accumulaties van aantallen PV installaties,</text>
<text transform="translate(815.20,156.80) rotate(90) scale(0.94,1)" x="0" y="0" font-size="12" fill="#000" font-weight="bold" letter-spacing="0.718">resp. opgestelde capaciteit, in MWp</text>
<text x="238.60" y="513.70" font-size="12.4" fill="#ff0000" textLength="61.58" lengthAdjust="spacingAndGlyphs">Capaciteit</text>
<text x="304.40" y="513.70" font-size="12.4" fill="#ff0000" textLength="7.62" lengthAdjust="spacingAndGlyphs">&amp;</text>
<text x="316.80" y="513.70" font-size="12.4" fill="#ff0000" textLength="69.98" lengthAdjust="spacingAndGlyphs">gemiddelde</text>
<text x="391.60" y="513.70" font-size="12.4" fill="#ff0000" textLength="25.98" lengthAdjust="spacingAndGlyphs">aug.</text>
<text x="421.90" y="513.70" font-size="12.4" fill="#ff0000" textLength="4.23" lengthAdjust="spacingAndGlyphs">-</text>
<text x="429.60" y="513.70" font-size="12.4" fill="#ff0000" textLength="22.50" lengthAdjust="spacingAndGlyphs">okt.</text>
<text x="458.20" y="513.70" font-size="12.4" fill="#ff0000" textLength="34.59" lengthAdjust="spacingAndGlyphs">2024:</text>
<text x="497.70" y="513.70" font-size="12.4" fill="#ff0000" textLength="66.30" lengthAdjust="spacingAndGlyphs">onmogelijk</text>
<text x="568.40" y="513.70" font-size="12.4" fill="#ff0000" textLength="13.85" lengthAdjust="spacingAndGlyphs">(!)</text>
</svg>
</body></html>
